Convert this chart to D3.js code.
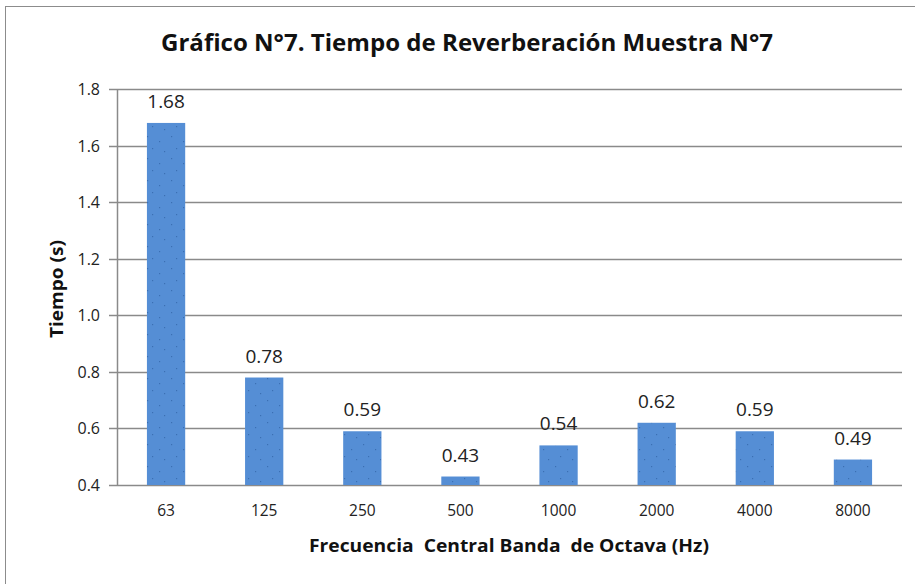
<!DOCTYPE html>
<html><head><meta charset="utf-8">
<script src="https://cdn.jsdelivr.net/npm/d3@7"></script>
<style>body{margin:0;background:#fff;}svg{display:block;font-family:"Open Sans",Lato,sans-serif;}</style>
</head><body>
<svg id="c" width="915" height="584"></svg>
<script>
const categories = ["63","125","250","500","1000","2000","4000","8000"];
const values = [1.68,0.78,0.59,0.43,0.54,0.62,0.59,0.49];
const yTicks = [0.4,0.6,0.8,1.0,1.2,1.4,1.6,1.8];
const title = "Gráfico N°7. Tiempo de Reverberación Muestra N°7";
const xTitle = "Frecuencia  Central Banda  de Octava (Hz)";
const yTitle = "Tiempo (s)";

const svg = d3.select("#c");
const m = {l:117, r:902, t:89, b:485};
svg.append("rect").attr("x",5.5).attr("y",6.5).attr("width",915).attr("height",600)
  .attr("fill","#fff").attr("stroke","#8c8c8c").attr("stroke-width",1);

const defs = svg.append("defs");
const pat = defs.append("pattern").attr("id","dots").attr("patternUnits","userSpaceOnUse")
  .attr("width",24).attr("height",22);
pat.append("rect").attr("width",24).attr("height",22).attr("fill","#558ed5");
[[3,4],[15,9],[8,16],[20,19]].forEach(p=>pat.append("rect").attr("x",p[0]).attr("y",p[1]).attr("width",1.2).attr("height",1.2).attr("fill","#3b6fb3"));

const x = d3.scaleBand().domain(categories).range([m.l,m.r]).paddingInner(0.61).paddingOuter(0.305);
const y = d3.scaleLinear().domain([0.4,1.8]).range([m.b,m.t]);

// gridlines
svg.append("g").selectAll("line").data(yTicks).join("line")
  .attr("x1",m.l-8).attr("x2",m.r).attr("y1",d=>Math.round(y(d))+0.5).attr("y2",d=>Math.round(y(d))+0.5)
  .attr("stroke","#8a8a8a").attr("stroke-width",1.5);
svg.append("line").attr("x1",m.l+0.5).attr("x2",m.l+0.5).attr("y1",m.t).attr("y2",m.b)
  .attr("stroke","#8a8a8a").attr("stroke-width",1.5);

// y tick labels
svg.append("g").selectAll("text").data(yTicks).join("text")
  .attr("x",100).attr("y",d=>y(d)+6).attr("text-anchor","end")
  .attr("font-size",16).attr("fill","#222").text(d=>d3.format(".1f")(d));

// bars
svg.append("g").selectAll("rect").data(values).join("rect")
  .attr("x",(d,i)=>x(categories[i])).attr("width",x.bandwidth())
  .attr("y",d=>y(d)).attr("height",d=>y(0.4)-y(d)).attr("fill","url(#dots)");

// value labels
svg.append("g").selectAll("text").data(values).join("text")
  .attr("x",(d,i)=>x(categories[i])+x.bandwidth()/2).attr("y",d=>y(d)-15)
  .attr("text-anchor","middle").attr("font-size",19).attr("fill","#222").text(d=>d3.format(".2f")(d));

// x tick labels
svg.append("g").selectAll("text").data(categories).join("text")
  .attr("x",d=>x(d)+x.bandwidth()/2).attr("y",516).attr("text-anchor","middle")
  .attr("font-size",15.5).attr("fill","#222").text(d=>d);

svg.append("text").attr("x",467).attr("y",51).attr("text-anchor","middle")
  .attr("font-size",23).attr("font-weight","bold").attr("fill","#111")
  .attr("textLength",612).attr("lengthAdjust","spacingAndGlyphs").text(title);
svg.append("text").attr("x",509).attr("y",552).attr("text-anchor","middle")
  .attr("font-size",17).attr("font-weight","bold").attr("fill","#111").attr("xml:space","preserve")
  .attr("textLength",400).attr("lengthAdjust","spacingAndGlyphs")
  .style("white-space","pre").text(xTitle);
svg.append("text").attr("transform","translate(63,289) rotate(-90)").attr("text-anchor","middle")
  .attr("font-size",17).attr("font-weight","bold").attr("fill","#111")
  .attr("textLength",98).attr("lengthAdjust","spacingAndGlyphs").text(yTitle);
</script>
</body></html>
